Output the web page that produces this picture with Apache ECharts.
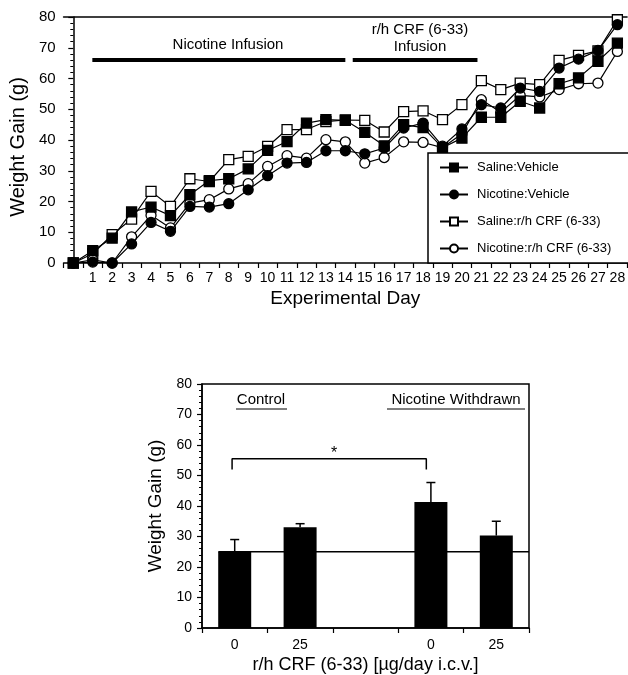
<!DOCTYPE html>
<html>
<head>
<meta charset="utf-8">
<script src="https://cdn.jsdelivr.net/npm/echarts@6/dist/echarts.min.js"></script>
<style>html,body{margin:0;padding:0;background:#fff;}#c{width:628px;height:675px;}</style>
</head>
<body>
<div id="c"></div>
<script>
// ---------- Top chart data ----------
var days = ['', '1','2','3','4','5','6','7','8','9','10','11','12','13','14','15','16','17','18','19','20','21','22','23','24','25','26','27','28'];
var salineVehicle   = [0, 4.0, 8.1, 16.6, 18.2, 15.4, 22.2, 26.8, 27.4, 30.6, 36.6, 39.5, 45.5, 46.6, 46.4, 42.5, 38.1, 45.0, 44.0, 37.5, 40.6, 47.4, 47.4, 52.6, 50.4, 58.3, 60.2, 65.6, 71.5];
var nicotineVehicle = [0, 0.3, 0, 6.2, 13.2, 10.3, 18.4, 18.2, 19.3, 23.8, 28.4, 32.5, 32.7, 36.5, 36.5, 35.5, 37.4, 43.9, 45.5, 38.0, 43.6, 51.5, 50.4, 56.9, 55.8, 63.4, 66.3, 69.1, 77.5];
var salineCRF       = [0, 3.0, 9.2, 14.3, 23.3, 18.4, 27.4, 26.5, 33.6, 34.7, 37.9, 43.4, 43.4, 46.0, 46.5, 46.4, 42.6, 49.2, 49.5, 46.6, 51.5, 59.3, 56.4, 58.5, 58.0, 65.9, 67.5, 69.0, 79.1];
var nicotineCRF     = [0, 1.0, 0, 8.5, 15.5, 11.4, 19.5, 20.6, 24.1, 25.8, 31.4, 34.9, 34.1, 40.1, 39.4, 32.5, 34.3, 39.4, 39.2, 37.5, 42.0, 53.1, 49.0, 54.5, 54.0, 56.4, 58.3, 58.5, 68.8];
var seriesNames = ['Saline:Vehicle', 'Nicotine:Vehicle', 'Saline:r/h CRF (6-33)', 'Nicotine:r/h CRF (6-33)'];
var yTicks = [0, 10, 20, 30, 40, 50, 60, 70, 80];
// infusion periods: [day, level]
var nicotineInfusion = [[0.98, 66], [14.0, 66]];
var crfInfusion = [[14.38, 66], [20.8, 66]];

// ---------- Bottom chart data ----------
var doseLabels = ['0', '25', '', '0', '25'];
var meanGain = [25, 33, null, 41.3, 30.3];
var errTop   = [29, 34.2, null, 47.7, 35];
var baselineLine = [[0.25, 25], [5, 25]];
var bracket = [[0.46, 52], [0.46, 55.5], [3.43, 55.5], [3.43, 52]];

var FONT = '"Liberation Sans", Arial, Helvetica, sans-serif';
var chart = echarts.init(document.getElementById('c'));

var errData = [];
for (var i = 0; i < meanGain.length; i++) {
  if (meanGain[i] != null) errData.push([i, meanGain[i], errTop[i]]);
}

function lineSeries(name, data, symbol, filled, z) {
  return {
    name: name, type: 'line', xAxisIndex: 0, yAxisIndex: 0,
    data: data, symbol: symbol, symbolSize: 10, z: z,
    lineStyle: {color: '#000', width: 1.2},
    itemStyle: {color: filled ? '#000' : '#fff', borderColor: '#000', borderWidth: 1.3},
    emphasis: {disabled: true}, animation: false
  };
}

var option = {
  animation: false,
  textStyle: {fontFamily: FONT, color: '#000'},
  grid: [
    {left: 60, top: 17, right: -5, height: 246},
    {left: 202, top: 384, width: 327, height: 244, show: true, borderColor: '#000', borderWidth: 1.5}
  ],
  xAxis: [
    {
      type: 'category', gridIndex: 0, data: days, boundaryGap: true,
      axisLine: {lineStyle: {color: '#000', width: 1.5}},
      axisTick: {show: true, length: 5, lineStyle: {color: '#000', width: 1.2}, interval: 0},
      axisLabel: {color: '#000', fontSize: 14, fontFamily: FONT, margin: 8, interval: 0},
      name: 'Experimental Day', nameLocation: 'middle', nameGap: 26,
      nameTextStyle: {fontSize: 19, color: '#000', fontFamily: FONT}
    },
    {
      type: 'value', gridIndex: 0, min: -0.5, max: 28.5, position: 'top',
      axisLine: {show: true, onZero: false, lineStyle: {color: '#000', width: 1.5}},
      axisTick: {show: false}, axisLabel: {show: false}, splitLine: {show: false}
    },
    {
      type: 'category', gridIndex: 1, data: doseLabels, boundaryGap: true,
      axisLine: {lineStyle: {color: '#000', width: 1.5}},
      axisTick: {show: true, length: 5, lineStyle: {color: '#000', width: 1.2}, interval: 0},
      axisLabel: {color: '#000', fontSize: 14, fontFamily: FONT, margin: 10, interval: 0},
      name: 'r/h CRF (6-33) [µg/day i.c.v.]', nameLocation: 'middle', nameGap: 28,
      nameTextStyle: {fontSize: 18, color: '#000', fontFamily: FONT}
    },
    {
      type: 'value', gridIndex: 1, min: 0, max: 5, show: false
    }
  ],
  yAxis: [
    {
      type: 'value', gridIndex: 0, min: 0, max: 80, interval: 10,
      axisLine: {show: true, lineStyle: {color: '#000', width: 1.5}},
      axisTick: {show: true, length: 5, lineStyle: {color: '#000', width: 1.2}},
      minorTick: {show: true, splitNumber: 5, length: 3, lineStyle: {color: '#000', width: 1}},
      splitLine: {show: false},
      axisLabel: {color: '#000', fontSize: 15, fontFamily: FONT, margin: 8,
        formatter: function (v) { return yTicks.indexOf(v) >= 0 ? String(v) : ''; }},
      name: 'Weight Gain (g)', nameLocation: 'middle', nameGap: 22,
      nameTextStyle: {fontSize: 20, color: '#000', fontFamily: FONT, padding: [0, 14, 0, 0]}
    },
    {
      type: 'value', gridIndex: 1, min: 0, max: 80, interval: 10,
      axisLine: {show: true, lineStyle: {color: '#000', width: 1.5}},
      axisTick: {show: true, length: 5, lineStyle: {color: '#000', width: 1.2}},
      minorTick: {show: true, splitNumber: 5, length: 3, lineStyle: {color: '#000', width: 1}},
      splitLine: {show: false},
      axisLabel: {color: '#000', fontSize: 14, fontFamily: FONT, margin: 10},
      name: 'Weight Gain (g)', nameLocation: 'middle', nameGap: 20,
      nameTextStyle: {fontSize: 19, color: '#000', fontFamily: FONT}
    }
  ],
  legend: {
    data: seriesNames, orient: 'vertical', left: 428, top: 153,
    padding: [8, 20, 8, 11], itemWidth: 28, itemHeight: 10, itemGap: 14,
    backgroundColor: '#fff', borderColor: '#000', borderWidth: 1.5,
    textStyle: {fontSize: 13, color: '#000', fontFamily: FONT, padding: [0, 0, 0, 4]},
    selectedMode: false, z: 10
  },
  series: [
    lineSeries(seriesNames[0], salineVehicle, 'rect', true, 4),
    lineSeries(seriesNames[1], nicotineVehicle, 'circle', true, 4),
    lineSeries(seriesNames[2], salineCRF, 'rect', false, 3),
    lineSeries(seriesNames[3], nicotineCRF, 'circle', false, 3),
    {
      type: 'line', xAxisIndex: 1, yAxisIndex: 0, data: nicotineInfusion, symbol: 'none',
      lineStyle: {color: '#000', width: 4}, silent: true
    },
    {
      type: 'line', xAxisIndex: 1, yAxisIndex: 0, data: crfInfusion, symbol: 'none',
      lineStyle: {color: '#000', width: 4}, silent: true
    },
    {
      type: 'line', xAxisIndex: 3, yAxisIndex: 1, data: baselineLine, symbol: 'none',
      lineStyle: {color: '#000', width: 1.3}, silent: true, z: 1
    },
    {
      type: 'line', xAxisIndex: 3, yAxisIndex: 1, data: bracket, symbol: 'none',
      lineStyle: {color: '#000', width: 1.5}, silent: true
    },
    {
      type: 'bar', xAxisIndex: 2, yAxisIndex: 1, data: meanGain, barWidth: 33,
      itemStyle: {color: '#000'}, z: 3, silent: true
    },
    {
      type: 'custom', xAxisIndex: 2, yAxisIndex: 1, data: errData, z: 2, silent: true,
      renderItem: function (params, api) {
        var top = api.coord([api.value(0), api.value(2)]);
        var base = api.coord([api.value(0), api.value(1)]);
        var style = {stroke: '#000', lineWidth: 1.5};
        return {
          type: 'group', children: [
            {type: 'line', shape: {x1: top[0], y1: top[1], x2: base[0], y2: base[1]}, style: style},
            {type: 'line', shape: {x1: top[0] - 4.5, y1: top[1], x2: top[0] + 4.5, y2: top[1]}, style: style}
          ]
        };
      }
    }
  ],
  graphic: [
    {type: 'text', style: {text: 'Nicotine Infusion', font: '15px ' + FONT, fill: '#000', x: 228, y: 45, textAlign: 'center', textVerticalAlign: 'middle'}},
    {type: 'text', style: {text: 'r/h CRF (6-33)', font: '15px ' + FONT, fill: '#000', x: 420, y: 30, textAlign: 'center', textVerticalAlign: 'middle'}},
    {type: 'text', style: {text: 'Infusion', font: '15px ' + FONT, fill: '#000', x: 420, y: 47, textAlign: 'center', textVerticalAlign: 'middle'}},
    {type: 'text', style: {text: 'Control', font: '15px ' + FONT, fill: '#000', x: 261, y: 400, textAlign: 'center', textVerticalAlign: 'middle'}},
    {type: 'line', shape: {x1: 236, y1: 409, x2: 287, y2: 409}, style: {stroke: '#000', lineWidth: 1}},
    {type: 'text', style: {text: 'Nicotine Withdrawn', font: '15px ' + FONT, fill: '#000', x: 456, y: 400, textAlign: 'center', textVerticalAlign: 'middle'}},
    {type: 'line', shape: {x1: 387, y1: 409, x2: 525, y2: 409}, style: {stroke: '#000', lineWidth: 1}},
    {type: 'text', style: {text: '*', font: '16px ' + FONT, fill: '#000', x: 334, y: 454, textAlign: 'center', textVerticalAlign: 'middle'}}
  ]
};
chart.setOption(option);
</script>
</body>
</html>
